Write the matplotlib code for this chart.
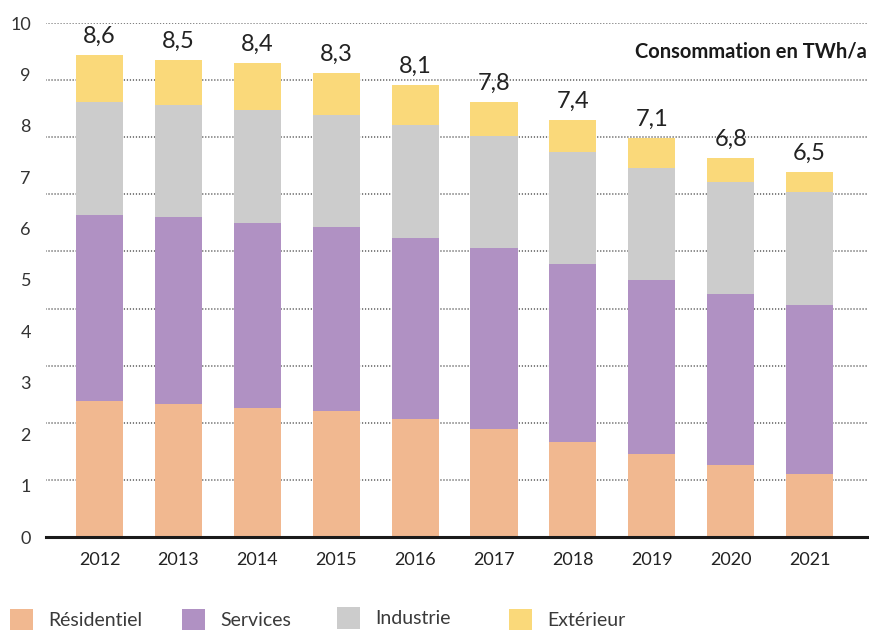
# plot.py - stacked bars of electricity consumption by sector, 2012-2021
import matplotlib
matplotlib.use("Agg")
from matplotlib import pyplot as plt
from matplotlib.patches import Rectangle

# ---------------------------------
# data (TWh/a)
years = ["2012", "2013", "2014", "2015", "2016", "2017", "2018", "2019", "2020", "2021"]
residentiel = [2.42, 2.37, 2.30, 2.25, 2.10, 1.93, 1.69, 1.48, 1.28, 1.12]
services = [3.32, 3.34, 3.30, 3.28, 3.23, 3.22, 3.18, 3.10, 3.05, 3.02]
industrie = [2.02, 1.99, 2.01, 1.99, 2.01, 2.00, 1.99, 2.00, 2.00, 2.01]
exterieur = [0.83, 0.80, 0.84, 0.75, 0.72, 0.60, 0.57, 0.53, 0.43, 0.36]
totals = [8.6, 8.5, 8.4, 8.3, 8.1, 7.8, 7.4, 7.1, 6.8, 6.5]
y_labels = list(range(0, 11))

series_names = ["Résidentiel", "Services", "Industrie", "Extérieur"]
series_colors = ["#F1B890", "#B091C3", "#CCCCCC", "#FAD97A"]
# -------------------------------------

plt.rcParams['font.family'] = ['Lato', 'DejaVu Sans']

W, H = 870, 630
fig = plt.figure(figsize=(W / 100, H / 100), dpi=100)
rect = [46 / W, 93 / H, 822 / W, 514 / H]

# dotted gridlines live on their own axes (their spacing doesn't match the bars)
ax_grid = fig.add_axes(rect, zorder=0)
ax_grid.set_ylim(0, 9)
ax_grid.set_xlim(0, 1)
for v in range(1, 10):
    ax_grid.axhline(v, color="#333333", lw=1.08, ls=(0, (0.01, 2.0)),
                    dash_capstyle="round")
ax_grid.axis("off")

# y tick labels, also on their own scale
ax_lab = fig.add_axes(rect, zorder=0.5)
ax_lab.set_facecolor("none")
ax_lab.set_ylim(0.058, 9.98)
ax_lab.set_yticks(y_labels)
ax_lab.set_xticks([])
ax_lab.tick_params(axis="y", length=0, pad=10.8, labelsize=13, labelcolor="#333333")
for s in ax_lab.spines.values():
    s.set_visible(False)

# the bars
ax = fig.add_axes(rect, zorder=1)
ax.set_facecolor("none")
x = list(range(len(years)))
bottom = [0.0] * len(years)
for vals, col in zip([residentiel, services, industrie, exterieur], series_colors):
    ax.bar(x, vals, bottom=bottom, width=0.596, color=col, linewidth=0)
    bottom = [b + v for b, v in zip(bottom, vals)]

for i, (top, t) in enumerate(zip(bottom, totals)):
    ax.annotate(f"{t:.1f}".replace(".", ","), (i, top), xytext=(0, 8.6),
                textcoords="offset points", ha="center", va="baseline",
                fontsize=17, color="#222222")

ax.axhline(0, color="#1a1a1a", lw=2.2, clip_on=False)
ax.set_xlim(-0.678, 9.74)
ax.set_ylim(0, 514 / 56.1)
ax.set_xticks(x, years)
ax.set_yticks([])
ax.tick_params(axis="x", length=0, pad=11, labelsize=13, labelcolor="#222222")
for s in ax.spines.values():
    s.set_visible(False)

fig.text(867 / W, 1 - 57 / H, "Consommation en TWh/a", ha="right", va="baseline",
         fontsize=14.5, fontweight="bold", color="#1a1a1a")

# legend along the bottom edge
legend_x = [10, 182, 337, 509]
legend_top = [609, 609, 607, 609]
for name, col, lx, lt in zip(series_names, series_colors, legend_x, legend_top):
    fig.patches.append(Rectangle((lx / W, 1 - (lt + 22) / H), 23 / W, 22 / H,
                                 transform=fig.transFigure, color=col, lw=0))
    fig.text((lx + 38) / W, 1 - (lt + 17) / H, name, ha="left", va="baseline",
             fontsize=14, color="#3a3a3a")

plt.savefig("out.png", dpi=100)
